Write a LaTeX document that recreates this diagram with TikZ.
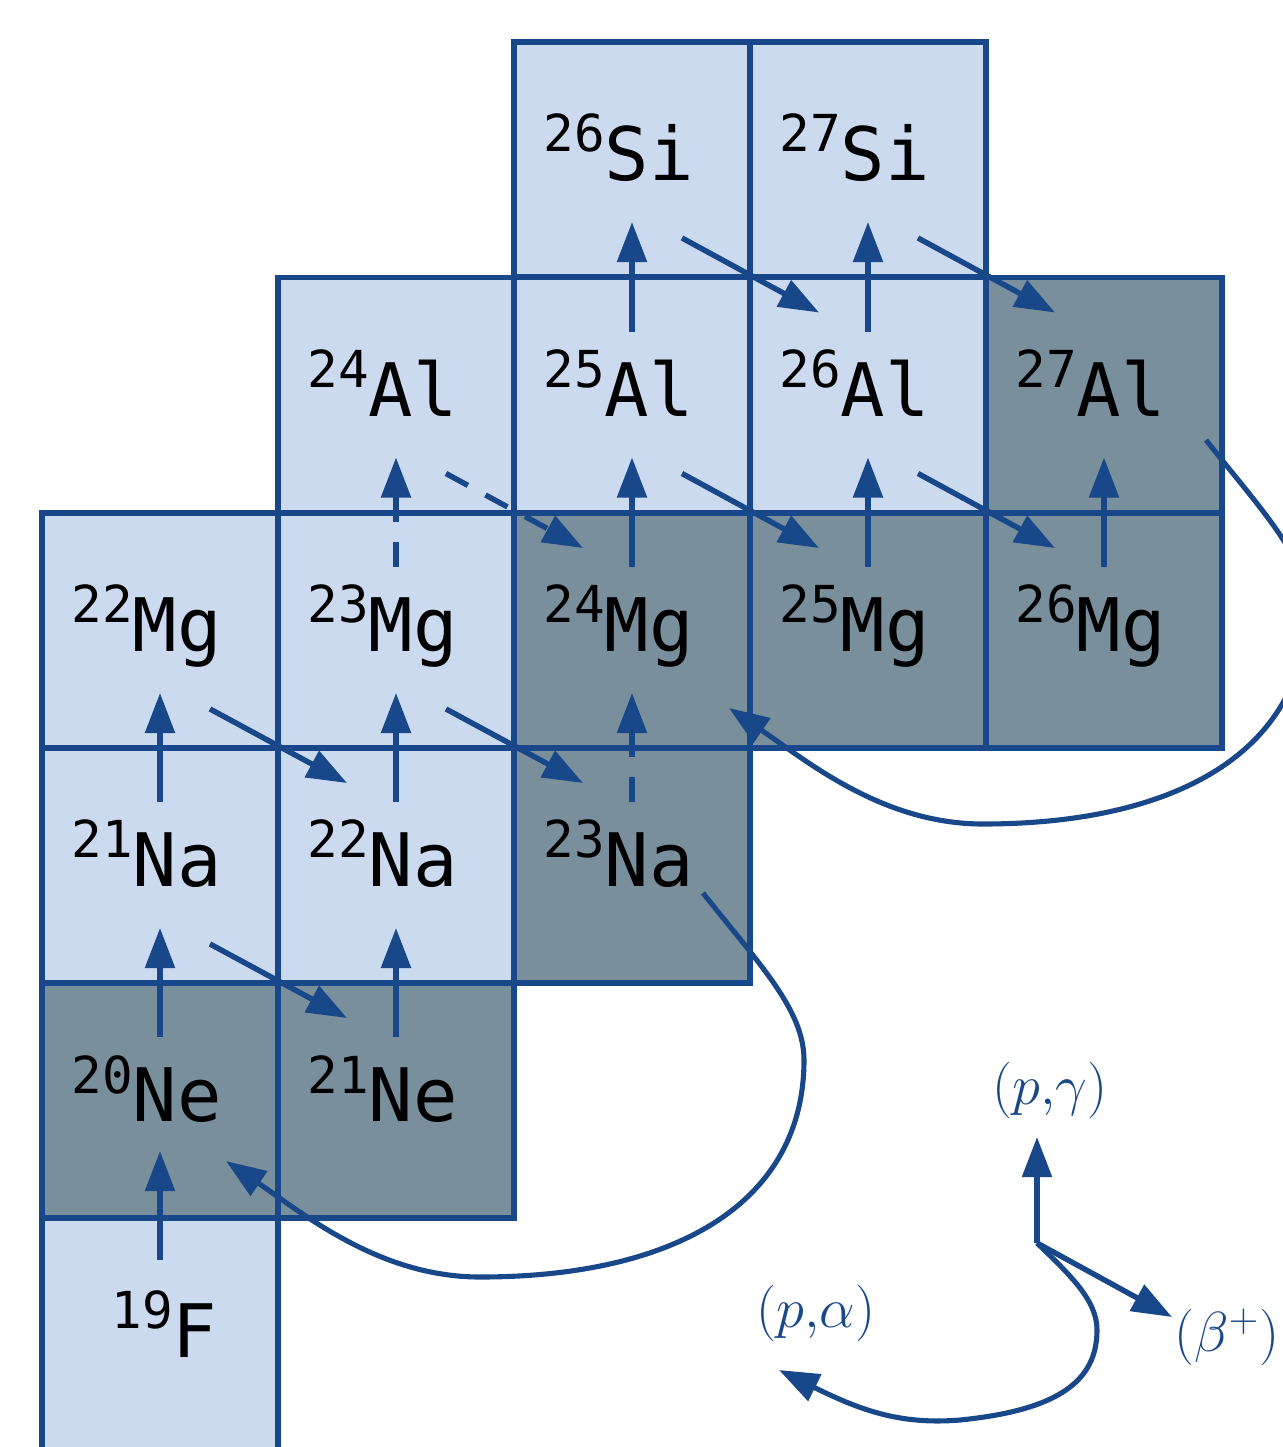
\documentclass[tikz,border=0pt]{standalone}
\usepackage{graphicx}
\usepackage{fontspec}
\newfontfamily\isofont{DejaVu Sans Mono}
\usetikzlibrary{arrows.meta,calc}
\definecolor{lineblue}{RGB}{24,72,138}
\definecolor{lightcell}{RGB}{203,218,239}
\definecolor{darkcell}{RGB}{121,143,155}
\newcommand{\iso}[2]{{\fontsize{29}{29}\selectfont\raisebox{16.5pt}{#1}}{\fontsize{42}{42}\selectfont #2}}
\newcommand{\legtxt}[1]{\scalebox{1.55}{\fontsize{20.74}{20.74}\selectfont #1}}
\newcommand{\upreac}[3][]{\draw[rx,#1] ($(#2.north)+(0,54)$) -- ($(#3.south)+(0,-55)$);}
\newcommand{\betareac}[3][]{\draw[rx,#1] ($(#2.south east)+(-68,-39)$) -- ($(#3.north west)+(69,35)$);}
\tikzset{
 cell/.style={draw=lineblue, line width=2.9pt, minimum width=4.72cm, minimum height=4.70cm, inner sep=0pt, outer sep=0pt},
 lt/.style={cell, fill=lightcell},
 dk/.style={cell, fill=darkcell},
 lbl/.style={anchor=base west, inner sep=0pt, font=\isofont, text=black},
 rx/.style={draw=lineblue, line width=3.1pt, -{Triangle[length=22.8pt,width=16.5pt]}},
 dsh/.style={dash pattern=on 14.2pt off 11.4pt},
 curv/.style={rx, line width=2.9pt},
 leg/.style={text=lineblue, inner sep=0pt},
}
\begin{document}
\begin{tikzpicture}[x=0.02cm,y=-0.02cm]
\path[use as bounding box] (0,0) rectangle (1283,1447);
\clip (0,0) rectangle (1283,1447);
% cells
\node[lt] (si26) at (632,159.5) {};
\node[lt] (si27) at (868,159.5) {};
\node[lt] (al24) at (396,395) {};
\node[lt] (al25) at (632,395) {};
\node[lt] (al26) at (868,395) {};
\node[dk] (al27) at (1104,395) {};
\node[lt] (mg22) at (160,630.5) {};
\node[lt] (mg23) at (396,630.5) {};
\node[dk] (mg24) at (632,630.5) {};
\node[dk] (mg25) at (868,630.5) {};
\node[dk] (mg26) at (1104,630.5) {};
\node[lt] (na21) at (160,865.5) {};
\node[lt] (na22) at (396,865.5) {};
\node[dk] (na23) at (632,865.5) {};
\node[dk] (ne20) at (160,1100.5) {};
\node[dk] (ne21) at (396,1100.5) {};
\node[lt, anchor=north, minimum height=6cm] (f19) at (160,1218) {};
% labels
\foreach \c/\a/\e in {si26/26/Si, si27/27/Si, al24/24/Al, al25/25/Al, al26/26/Al, al27/27/Al,
  mg22/22/Mg, mg23/23/Mg, mg24/24/Mg, mg25/25/Mg, mg26/26/Mg,
  na21/21/Na, na22/22/Na, na23/23/Na, ne20/20/Ne, ne21/21/Ne}
  \node[lbl] (t\c) at ($(\c.south west)+(29,-96)$) {\iso{\a}{\e}};
\node[lbl] (tf19) at ($(f19.north west)+(69,139)$) {\iso{19}{F}};
% (p,gamma)
\draw[rx] ($(f19.north)+(0,42)$) -- ($(ne20.south)+(0,-67)$);
\upreac{ne20}{na21}
\upreac{ne21}{na22}
\upreac{na21}{mg22}
\upreac{na22}{mg23}
\upreac[dsh]{na23}{mg24}
\upreac[dsh]{mg23}{al24}
\upreac{mg24}{al25}
\upreac{mg25}{al26}
\upreac{mg26}{al27}
\upreac{al25}{si26}
\upreac{al26}{si27}
% beta+
\betareac{na21}{ne21}
\betareac{mg22}{na22}
\betareac{mg23}{na23}
\betareac[dsh]{al24}{mg24}
\betareac{al25}{mg25}
\betareac{al26}{mg26}
\betareac{si26}{al26}
\betareac{si27}{al27}
% (p,alpha)
\draw[curv] ($(na23.center)+(71,27.5)$) .. controls (760,965) and (804,1010) .. (804,1060)
  .. controls (804,1200) and (680,1277) .. (480,1277)
  .. controls (380,1277) and (305,1215) .. ($(ne20.center)+(66,60.5)$);
\draw[curv] ($(al27.center)+(102,45)$) .. controls (1263,512) and (1307,557) .. (1307,607)
  .. controls (1307,747) and (1183,824) .. (983,824)
  .. controls (883,824) and (808,762) .. ($(mg24.center)+(97,77.5)$);
% legend
\coordinate (leg) at (1037,1243);
\node[leg] (lpg) at (1050,1090) {\legtxt{$(p{,}\gamma)$}};
\node[leg] (lbeta) at (1227,1337) {\legtxt{$(\beta^{+})$}};
\node[leg] (lpa) at (816,1313) {\legtxt{$(p{,}\alpha)$}};
\draw[rx] (leg) -- ++(0,-106);
\draw[rx] (leg) -- ++(135,74);
\draw[curv] (leg) .. controls (1070,1275) and (1097,1300) .. (1097,1330)
  .. controls (1097,1380) and (1060,1410) .. (960,1420)
  .. controls (900,1425) and (860,1410) .. (779,1370);
\end{tikzpicture}
\end{document}
